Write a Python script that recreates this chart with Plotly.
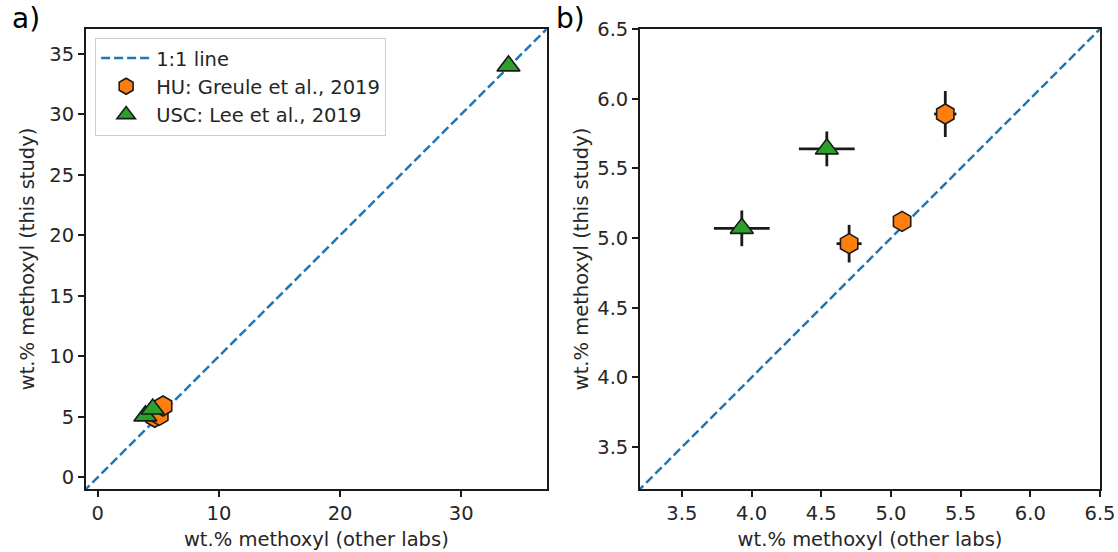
import plotly.graph_objects as go
from plotly.subplots import make_subplots

# HU (Greule et al., 2019) comparison values
hu_other = [4.70, 5.08, 5.39]
hu_this = [4.96, 5.12, 5.89]
hu_other_err = [0.09, 0.03, 0.08]
hu_this_err = [0.135, 0.03, 0.165]

# USC (Lee et al., 2019) comparison values
usc_other = [3.93, 4.54, 33.9]
usc_this = [5.07, 5.64, 34.0]
usc_other_err = [0.2, 0.2, 0.2]
usc_this_err = [0.128, 0.125, 0.125]

one_to_one = [-5, 45]

range_a = [-0.97, 37.05]
range_b = [3.2, 6.5]
ticks_a_x = [0, 10, 20, 30]
ticks_a_y = [0, 5, 10, 15, 20, 25, 30, 35]
ticks_b = [3.5, 4.0, 4.5, 5.0, 5.5, 6.0, 6.5]

BLUE = "#1f77b4"
ORANGE = "#ff7f0e"
GREEN = "#2ca02c"
EDGE = "#1a1a1a"
TEXT = "#262626"
FONT = "DejaVu Sans"
FS = 19.5

fig = make_subplots(rows=1, cols=2)

for col in (1, 2):
    fig.add_trace(go.Scatter(
        x=one_to_one, y=one_to_one, mode="lines", name="1:1 line",
        line=dict(color=BLUE, width=2.5, dash="9px,4px"),
        showlegend=(col == 1), legendrank=1), row=1, col=col)

# panel a: markers only
fig.add_trace(go.Scatter(
    x=hu_other, y=hu_this, mode="markers", name="HU: Greule et al., 2019",
    marker=dict(symbol="hexagon", size=20, color=ORANGE,
                line=dict(color=EDGE, width=1.6)),
    legendrank=2), row=1, col=1)
fig.add_trace(go.Scatter(
    x=usc_other, y=usc_this, mode="markers", name="USC: Lee et al., 2019",
    marker=dict(symbol="triangle-up", size=20, color=GREEN,
                line=dict(color=EDGE, width=1.6)),
    legendrank=3), row=1, col=1)

# panel b: markers with error bars
fig.add_trace(go.Scatter(
    x=hu_other, y=hu_this, mode="markers", showlegend=False,
    marker=dict(symbol="hexagon", size=20, color=ORANGE,
                line=dict(color=EDGE, width=1.6)),
    error_x=dict(type="data", array=hu_other_err, color=EDGE, thickness=2.8, width=0),
    error_y=dict(type="data", array=hu_this_err, color=EDGE, thickness=2.8, width=0)),
    row=1, col=2)
fig.add_trace(go.Scatter(
    x=usc_other, y=usc_this, mode="markers", showlegend=False,
    marker=dict(symbol="triangle-up", size=20, color=GREEN,
                line=dict(color=EDGE, width=1.6)),
    error_x=dict(type="data", array=usc_other_err, color=EDGE, thickness=2.8, width=0),
    error_y=dict(type="data", array=usc_this_err, color=EDGE, thickness=2.8, width=0)),
    row=1, col=2)

axis_style = dict(
    showgrid=False, zeroline=False, showline=True, mirror=True,
    linecolor=EDGE, linewidth=1.8, ticks="outside", ticklen=6,
    tickwidth=1.5, tickcolor=EDGE, automargin=False,
    tickfont=dict(family=FONT, size=FS, color=TEXT),
    title_font=dict(family=FONT, size=FS, color=TEXT),
)

fig.update_xaxes(**axis_style)
fig.update_yaxes(**axis_style)

fig.update_xaxes(domain=[0.0, 0.4543], range=range_a, tickvals=ticks_a_x,
                 title_text="wt.% methoxyl (other labs)", title_standoff=8,
                 row=1, col=1)
fig.update_yaxes(domain=[0.0, 1.0], range=range_a, tickvals=ticks_a_y,
                 title_text="wt.% methoxyl (this study)", title_standoff=10,
                 row=1, col=1)
fig.update_xaxes(domain=[0.5464, 1.0], range=range_b, tickvals=ticks_b,
                 tickformat=".1f",
                 title_text="wt.% methoxyl (other labs)", title_standoff=8,
                 row=1, col=2)
fig.update_yaxes(domain=[0.0, 1.0], range=range_b, tickvals=ticks_b,
                 tickformat=".1f",
                 title_text="wt.% methoxyl (this study)", title_standoff=3,
                 row=1, col=2)

fig.update_layout(
    width=1118, height=552,
    margin=dict(l=86, r=18, t=29, b=63, autoexpand=False),
    paper_bgcolor="white", plot_bgcolor="white",
    font=dict(family=FONT, size=FS, color=TEXT),
    legend=dict(
        x=0.009, y=0.981, xanchor="left", yanchor="top",
        bgcolor="rgba(255,255,255,0.9)", bordercolor="#cccccc", borderwidth=1,
        font=dict(family=FONT, size=FS, color=TEXT),
        tracegroupgap=0, itemwidth=50,
    ),
)

# panel labels
fig.add_annotation(text="a)", xref="paper", yref="paper", x=-0.075, y=1.063,
                   xanchor="left", yanchor="top", showarrow=False,
                   font=dict(family=FONT, size=28, color="black"))
fig.add_annotation(text="b)", xref="paper", yref="paper", x=0.462, y=1.063,
                   xanchor="left", yanchor="top", showarrow=False,
                   font=dict(family=FONT, size=28, color="black"))

fig.write_html("out.html")
